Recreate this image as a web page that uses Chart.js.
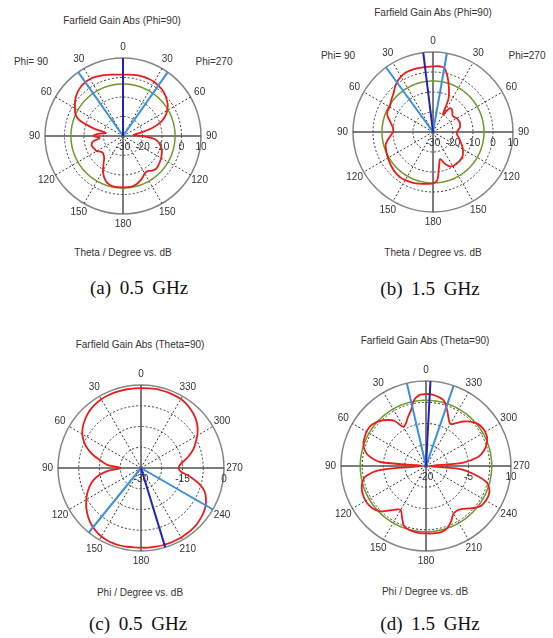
<!DOCTYPE html>
<html><head><meta charset="utf-8">
<script src="https://cdn.jsdelivr.net/npm/chart.js@4/dist/chart.umd.min.js"></script>
<style>
html,body{margin:0;padding:0;background:#fff;}
#page{position:relative;width:553px;height:638px;overflow:hidden;background:#fff;}
canvas{position:absolute;}
.t{position:absolute;transform:translate(-50%,-50%);white-space:nowrap;font-family:"Liberation Sans",Arial,sans-serif;font-size:10px;color:#333;line-height:1;}
.cap{position:absolute;transform:translate(-50%,-50%);white-space:nowrap;font-family:"Liberation Serif","Times New Roman",serif;font-size:19px;color:#111;line-height:1;word-spacing:4px;}
</style></head><body><div id="page"></div>
<script>
// ---------- DATA (angles are measured clockwise from the top of each plot) ----------
// gain samples every 5 degrees, clockwise from top (dB)
const sampleStep = 5;
const gainA = [1.5,1.6,1.8,2.0,2.1,2.1,2.0,1.6,1.1,0.3,
  -0.8,-2.0,-3.8,-6.1,-9.5,-15.0,-21.5,-24.5,-20.0,-14.0,
  -11.5,-10.0,-8.8,-8.1,-7.4,-6.9,-6.4,-6.1,-6.8,-8.0,
  -7.8,-6.4,-5.2,-4.2,-3.7,-3.7,-3.7,-3.7,-3.7,-4.0,
  -5.0,-6.9,-9.5,-12.6,-15.0,-16.0,-16.5,-16.0,-14.5,-14.0,
  -13.4,-13.3,-14.5,-18.0,-14.8,-17.0,-21.0,-13.8,-6.1,-3.0,
  -1.6,0.1,1.5,2.6,3.3,3.7,3.8,3.5,3.0,2.5,
  2.0,1.6];
const gainB = [2.8,3.0,2.5,-1.7,-6.7,-11.7,-20.0,-15.5,-15.3,-16.3,
  -17.2,-17.0,-16.3,-16.0,-15.8,-16.0,-16.3,-17.3,-18.0,-18.0,
  -17.3,-16.3,-15.3,-14.0,-12.7,-11.7,-10.8,-10.5,-10.3,-10.3,
  -10.3,-11.2,-13.3,-16.0,-12.5,-5.7,-4.3,-4.0,-3.7,-3.3,
  -2.8,-2.5,-2.2,-2.0,-2.2,-2.5,-3.0,-3.5,-4.0,-4.5,
  -5.0,-5.5,-7.0,-8.7,-10.0,-10.0,-9.0,-7.5,-5.7,-5.0,
  -5.0,-4.2,-3.3,-2.2,-0.5,1.0,2.0,2.7,2.8,2.8,
  2.7,2.7];
const gainC = [-1.1,-1.1,-1.0,-1.0,-1.0,-1.1,-1.2,-1.6,-2.2,-2.9,
  -3.8,-5.0,-6.5,-8.2,-9.8,-11.8,-14.0,-15.8,-16.4,-15.6,
  -12.0,-8.4,-5.6,-4.1,-3.0,-2.3,-1.8,-1.4,-1.2,-1.1,
  -1.0,-1.0,-1.0,-1.0,-1.1,-1.1,-1.2,-1.2,-1.1,-1.0,
  -1.0,-1.1,-1.4,-1.9,-2.6,-3.5,-4.6,-5.8,-7.2,-8.6,
  -10.2,-12.0,-14.4,-18.0,-22.6,-18.0,-15.4,-12.2,-9.4,-7.2,
  -5.5,-4.3,-3.4,-2.6,-2.0,-1.6,-1.3,-1.2,-1.1,-1.1,
  -1.1,-1.1];
const gainD = [5.4,5.3,4.8,4.0,1.5,-1.2,-2.8,-1.5,0.5,2.2,
  3.4,4.0,4.1,3.8,2.8,1.2,-1.2,-7.1,-18.2,-8.2,
  -2.6,2.1,3.8,4.4,4.4,4.1,2.9,1.2,-0.2,-0.8,
  -0.6,1.2,2.9,3.8,4.0,3.9,3.8,3.8,3.6,3.3,
  2.6,0.0,-2.1,-1.2,0.6,2.6,3.8,4.4,4.6,4.5,
  4.1,3.3,1.8,-3.5,-18.2,-3.8,0.5,2.5,3.5,3.9,
  4.2,4.2,3.6,2.6,1.2,-0.5,-4.0,-3.3,-1.5,0.4,
  3.8,5.2];
// -3 dB reference circles (dB)
const halfPowerA = -3.3;
const halfPowerB = -4.5;
const halfPowerD = 3.2;
// main-lobe direction and beam-width edges (deg clockwise from top)
const mainDirA = 0,   edgesA = [35, 325];
const mainDirB = 353, edgesB = [324, 10];
const mainDirC = 163, edgesC = [120, 219];
const mainDirD = 3,   edgesD = [347, 19];
// tick labels
const angleLabelsTheta = ['0','30','60','90','120','150','180','150','120','90','60','30'];
const angleLabelsPhi   = ['0','330','300','270','240','210','180','150','120','90','60','30'];
const dbLabelsAB = [-30,-20,-10,0,10];
const dbLabelsC  = [-30,-15,0];
const dbLabelsD  = [-20,-5,10];
// 1-degree angular categories
const angleCats = Array.from({length:360}, (_, i) => i);

// ---------- LAYOUT ----------
const M = 40;
const panels = [
  {cx:123, cy:136, R:78, min:-30, max:10, step:10,  ang:angleLabelsTheta, db:dbLabelsAB, gain:gainA, hp:halfPowerA, main:mainDirA, edges:edgesA},
  {cx:433, cy:132, R:80, min:-30, max:10, step:10,  ang:angleLabelsTheta, db:dbLabelsAB, gain:gainB, hp:halfPowerB, main:mainDirB, edges:edgesB},
  {cx:141, cy:468, R:83, min:-30, max:0,  step:7.5, ang:angleLabelsPhi,   db:dbLabelsC,  gain:gainC, hp:null,       main:mainDirC, edges:edgesC},
  {cx:426, cy:466, R:85, min:-20, max:10, step:7.5, ang:angleLabelsPhi,   db:dbLabelsD,  gain:gainD, hp:halfPowerD, main:mainDirD, edges:edgesD}
];
const texts = [
  ['Farfield Gain Abs (Phi=90)', 122, 21, 't'],
  ['Phi= 90', 31, 62, 't'], ['Phi=270', 214, 62, 't'],
  ['Theta / Degree vs. dB', 123, 253, 't'],
  ['(a) 0.5 GHz', 139, 287, 'cap'],
  ['Farfield Gain Abs (Phi=90)', 433, 13, 't'],
  ['Phi= 90', 338, 56, 't'], ['Phi=270', 527, 56, 't'],
  ['Theta / Degree vs. dB', 433, 253, 't'],
  ['(b) 1.5 GHz', 430, 288, 'cap'],
  ['Farfield Gain Abs (Theta=90)', 140, 345, 't'],
  ['Phi / Degree vs. dB', 140, 593, 't'],
  ['(c) 0.5 GHz', 138, 623, 'cap'],
  ['Farfield Gain Abs (Theta=90)', 425, 341, 't'],
  ['Phi / Degree vs. dB', 425, 592, 't'],
  ['(d) 1.5 GHz', 430, 623, 'cap']
];

const page = document.getElementById('page');
texts.forEach(([s, x, y, cls]) => {
  const d = document.createElement('div');
  d.className = cls; d.textContent = s;
  d.style.left = x + 'px'; d.style.top = y + 'px';
  page.appendChild(d);
});

function spread(samples) {
  const arr = new Array(angleCats.length).fill(null);
  samples.forEach((v, i) => { arr[i * sampleStep] = v; });
  return arr;
}
function ray(deg, p) {
  const arr = new Array(angleCats.length).fill(null);
  arr[deg % 360] = p.max;
  arr[(deg + 180) % 360] = p.min;
  return arr;
}
function labelPlugin(p) {
  return {
    id: 'polarText',
    beforeDatasetsDraw(chart) {
      const s = chart.scales.r, ctx = chart.ctx;
      ctx.save();
      ctx.font = '10px "Liberation Sans", Arial, sans-serif';
      ctx.fillStyle = '#333';
      ctx.textAlign = 'center';
      ctx.textBaseline = 'middle';
      const per = angleCats.length / p.ang.length;
      p.ang.forEach((lab, j) => {
        const pos = s.getPointPosition(j * per, s.drawingArea + 10.5);
        ctx.fillText(lab, pos.x, pos.y);
      });
      p.db.forEach(v => {
        const d = s.getDistanceFromCenterForValue(v);
        ctx.fillText(String(v), s.xCenter + d, s.yCenter + 11);
      });
      ctx.restore();
    }
  };
}

panels.forEach(p => {
  const S = 2 * p.R + 2 * M;
  const cv = document.createElement('canvas');
  cv.width = S; cv.height = S;
  cv.style.left = (p.cx - p.R - M) + 'px';
  cv.style.top = (p.cy - p.R - M) + 'px';
  page.appendChild(cv);
  const datasets = [
    {data: ray(p.main, p), borderColor:'#2222bb', borderWidth:2, tension:0, spanGaps:true, fill:false, order:0},
    {data: ray(p.edges[0], p), borderColor:'#3b8fe3', borderWidth:2, tension:0, spanGaps:true, fill:false, order:1},
    {data: ray(p.edges[1], p), borderColor:'#3b8fe3', borderWidth:2, tension:0, spanGaps:true, fill:false, order:1},
    {data: spread(p.gain), borderColor:'#ee1b1b', borderWidth:1.8, tension:0.35, spanGaps:true, fill:false, order:2}
  ];
  if (p.hp !== null) {
    datasets.push({data: angleCats.map(() => p.hp), borderColor:'#6d9a2b', borderWidth:1.5, tension:0, fill:false, order:3});
  }
  new Chart(cv, {
    type: 'radar',
    data: {labels: angleCats, datasets},
    options: {
      responsive: false, animation: false, devicePixelRatio: 1,
      layout: {padding: M},
      plugins: {legend: {display:false}, tooltip: {enabled:false}},
      elements: {point: {radius:0, hoverRadius:0, hitRadius:0}},
      scales: {
        r: {
          min: p.min, max: p.max, startAngle: 0,
          ticks: {display:false, stepSize:p.step},
          pointLabels: {display:false},
          grid: {
            circular: true,
            color: c => c.index === 4 ? '#858585' : '#3a3a3a',
            lineWidth: c => c.index === 0 ? 0 : (c.index === 4 ? 1.5 : 1),
            borderDash: c => c.index === 4 ? [] : [2, 2]
          },
          border: {dash: c => c.index === 4 ? [] : [2, 2]},
          angleLines: {
            color: c => c.index % 90 === 0 ? '#505050' : (c.index % 30 === 0 ? '#3a3a3a' : 'rgba(0,0,0,0)'),
            lineWidth: c => c.index % 30 === 0 ? (c.index % 90 === 0 ? 1.5 : 1) : 0,
            borderDash: c => c.index % 90 === 0 ? [] : [2, 2]
          }
        }
      }
    },
    plugins: [labelPlugin(p)]
  });
});
</script>
</body></html>
